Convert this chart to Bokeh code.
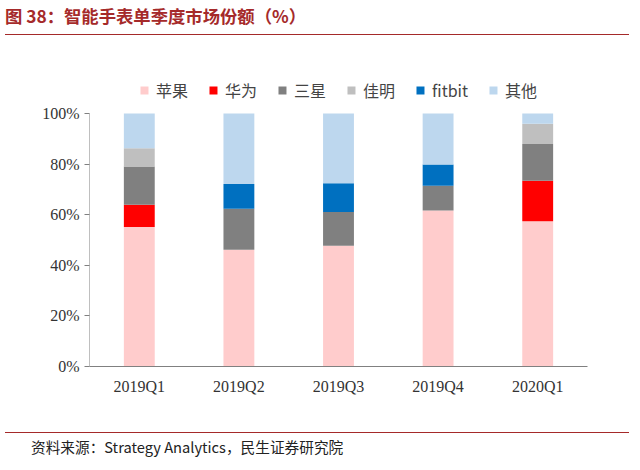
from bokeh.plotting import figure
from bokeh.layouts import column
from bokeh.models import Legend, LegendItem, NumeralTickFormatter, ColumnDataSource, FixedTicker, Div
from bokeh.embed import file_html
from bokeh.resources import INLINE

quarters = ["2019Q1", "2019Q2", "2019Q3", "2019Q4", "2020Q1"]
apple = [55.1, 46.1, 47.7, 61.7, 57.4]
huawei = [8.8, 0, 0, 0, 16.0]
samsung = [15.2, 16.3, 13.4, 9.7, 14.5]
garmin = [7.2, 0, 0, 0, 8.0]
fitbit = [0, 9.7, 11.3, 8.4, 0]
other = [13.7, 27.9, 27.6, 20.2, 4.1]
names = ["苹果", "华为", "三星", "佳明", "fitbit", "其他"]
colors = ["#FFCCCC", "#FF0000", "#808080", "#BFBFBF", "#0070C0", "#BDD7EE"]

keys = ["apple", "huawei", "samsung", "garmin", "fitbit", "other"]
src = ColumnDataSource(dict(q=quarters, apple=[v / 100 for v in apple], huawei=[v / 100 for v in huawei],
                            samsung=[v / 100 for v in samsung], garmin=[v / 100 for v in garmin],
                            fitbit=[v / 100 for v in fitbit], other=[v / 100 for v in other]))

p = figure(x_range=quarters, y_range=(0, 1 + 35 / 253), width=624, height=387, output_backend="svg",
           toolbar_location=None, min_border_left=89, min_border_right=37,
           min_border_top=38, min_border_bottom=61)
rs = p.vbar_stack(keys, x="q", width=0.31, color=colors, source=src, line_width=0)
p.segment(x0=[0], y0=[0], x1=[0], y1=[1], color="#808080", line_width=1)
p.outline_line_color = None
p.grid.visible = False
p.yaxis.ticker = FixedTicker(ticks=[0, 0.2, 0.4, 0.6, 0.8, 1.0])
p.yaxis.formatter = NumeralTickFormatter(format="0%")
for ax in (p.xaxis, p.yaxis):
    ax.major_label_text_font = "Liberation Serif"
    ax.major_label_text_font_size = "12pt"
    ax.major_label_text_color = "#333333"
    ax.axis_line_color = "#808080"
    ax.major_tick_line_color = "#808080"
    ax.minor_tick_line_color = None
p.yaxis.axis_line_color = None
p.xaxis.major_tick_line_color = None
p.yaxis.major_tick_in = 0
p.yaxis.major_tick_out = 5

legend = Legend(items=[LegendItem(label=n, renderers=[r]) for n, r in zip(names, rs)],
                orientation="horizontal", location="top_center", border_line_color=None,
                background_fill_alpha=0, label_text_font="Noto Sans CJK SC",
                label_text_font_size="12pt", glyph_width=10, glyph_height=10, spacing=20,
                label_standoff=7, margin=0, padding=0)
p.add_layout(legend, "center")

title = Div(text="图 38：智能手表单季度市场份额（%）", width=624, height=30,
            styles={"font-family": "Noto Sans CJK SC", "font-weight": "bold", "font-size": "13pt",
                    "color": "#A52A2A", "border-bottom": "1.5px solid #A52A2A",
                    "box-sizing": "border-box", "line-height": "22px"})
footer = Div(text="资料来源：Strategy Analytics，民生证券研究院", width=624, height=36,
             styles={"font-family": "Noto Sans CJK SC", "font-size": "11pt", "color": "#222222",
                     "border-top": "1px solid #A52A2A", "padding-top": "4px",
                     "padding-left": "26px", "box-sizing": "border-box"})

open("out.html", "w").write(file_html(column(title, p, footer, spacing=0), INLINE))
